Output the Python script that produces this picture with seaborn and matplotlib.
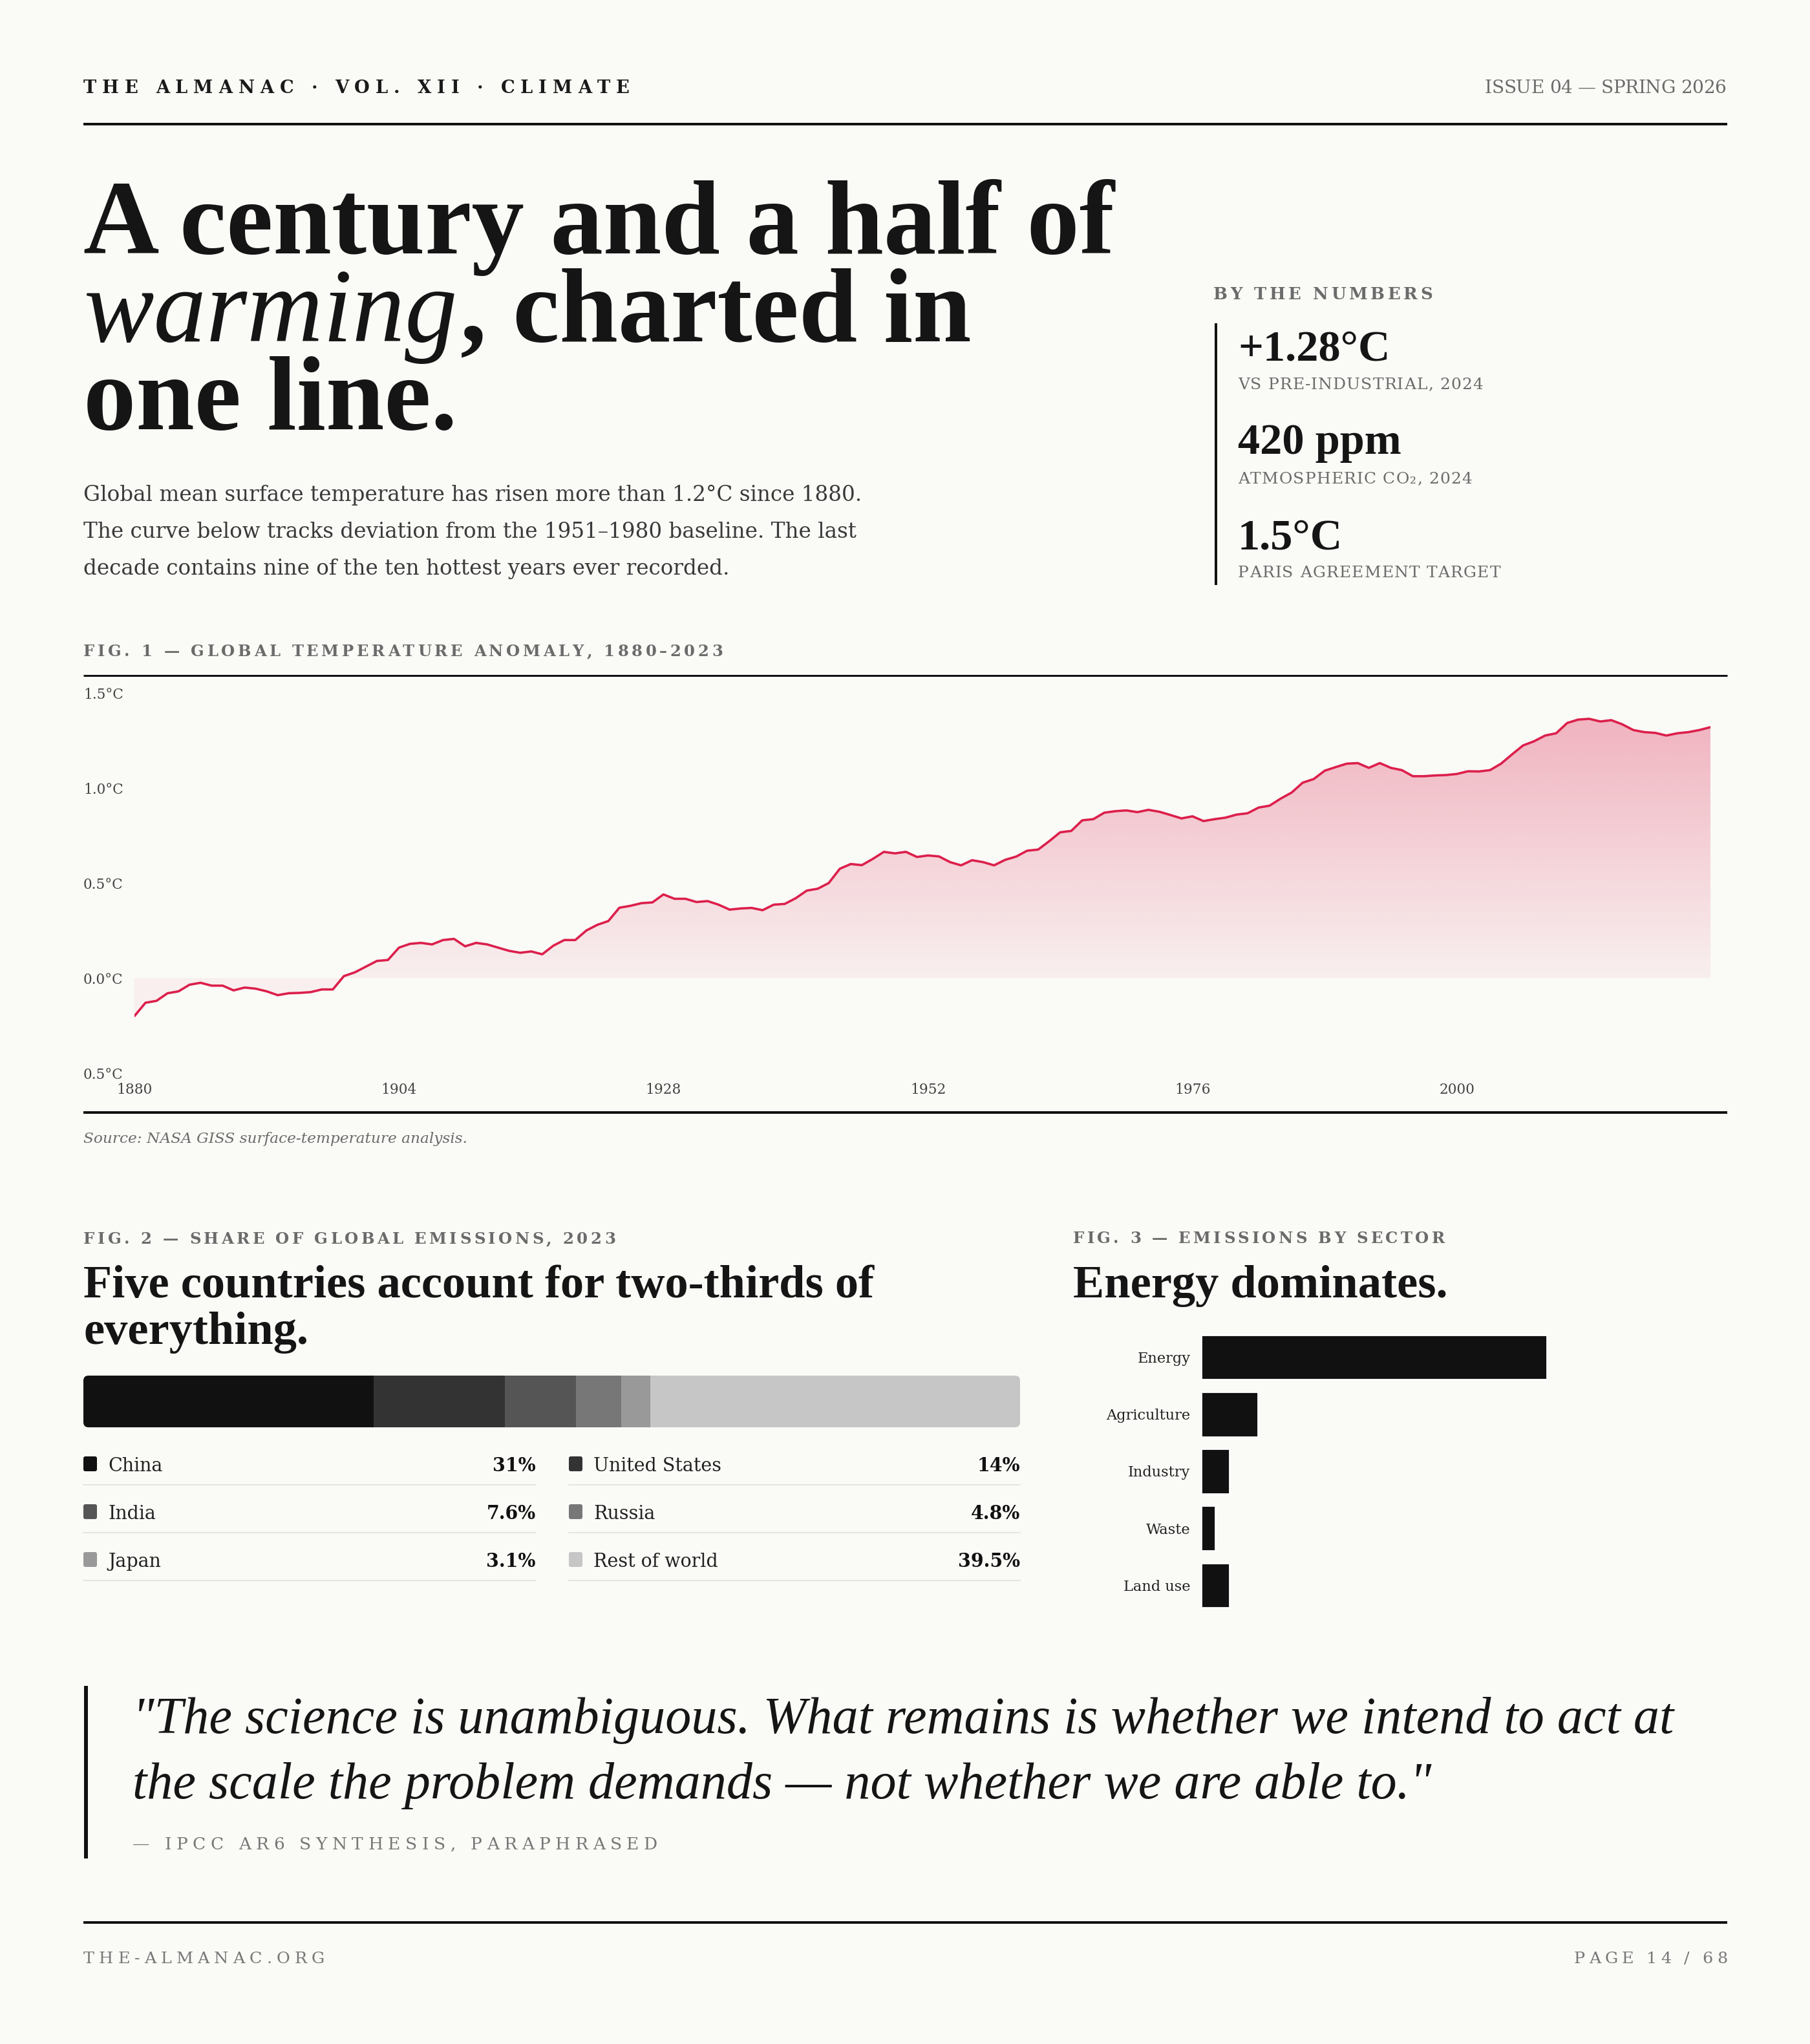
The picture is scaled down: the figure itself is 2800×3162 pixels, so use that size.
import matplotlib
matplotlib.use("Agg")
import matplotlib.pyplot as plt
import seaborn as sns
import numpy as np
import pandas as pd
from matplotlib.patches import FancyBboxPatch

# ---------------- data ----------------
years = list(range(1880, 2024))
anomaly = [
    -0.20, -0.13, -0.12, -0.08, -0.07, -0.035, -0.025, -0.04, -0.04, -0.065,
    -0.05, -0.056, -0.07, -0.09, -0.08, -0.078, -0.074, -0.06, -0.06, 0.01,
    0.03, 0.06, 0.09, 0.095, 0.16, 0.18, 0.185, 0.177, 0.20, 0.206,
    0.167, 0.185, 0.177, 0.16, 0.143, 0.133, 0.14, 0.125, 0.17, 0.20,
    0.20, 0.25, 0.28, 0.30, 0.37, 0.38, 0.394, 0.398, 0.44, 0.417,
    0.417, 0.40, 0.405, 0.386, 0.36, 0.366, 0.369, 0.357, 0.386, 0.39,
    0.42, 0.46, 0.47, 0.50, 0.575, 0.60, 0.594, 0.627, 0.664, 0.656,
    0.664, 0.637, 0.645, 0.64, 0.61, 0.593, 0.62, 0.61, 0.593, 0.622,
    0.639, 0.67, 0.676, 0.72, 0.767, 0.774, 0.83, 0.836, 0.87, 0.878,
    0.882, 0.873, 0.885, 0.875, 0.858, 0.84, 0.851, 0.826, 0.836, 0.844,
    0.86, 0.867, 0.897, 0.907, 0.944, 0.976, 1.028, 1.047, 1.091, 1.11,
    1.128, 1.131, 1.106, 1.131, 1.106, 1.094, 1.062, 1.062, 1.066, 1.068,
    1.074, 1.088, 1.087, 1.094, 1.128, 1.177, 1.224, 1.246, 1.276, 1.288,
    1.342, 1.36, 1.364, 1.35, 1.357, 1.335, 1.305, 1.294, 1.29, 1.276,
    1.288, 1.294, 1.305, 1.32,
]
y_ticks = [-0.5, 0.0, 0.5, 1.0, 1.5]
y_tick_labels = ["0.5°C", "0.0°C", "0.5°C", "1.0°C", "1.5°C"]
x_ticks = [1880, 1904, 1928, 1952, 1976, 2000]

countries = ["China", "United States", "India", "Russia", "Japan", "Rest of world"]
shares = [31, 14, 7.6, 4.8, 3.1, 39.5]
share_labels = ["31%", "14%", "7.6%", "4.8%", "3.1%", "39.5%"]
share_colors = ["#111111", "#333333", "#555555", "#777777", "#999999", "#c6c6c6"]

sectors = ["Energy", "Agriculture", "Industry", "Waste", "Land use"]
sector_values = [73.2, 12.0, 6.0, 3.0, 6.0]

stat_values = ["+1.28°C", "420 ppm", "1.5°C"]
stat_labels = ["VS PRE-INDUSTRIAL, 2024", "ATMOSPHERIC CO₂, 2024", "PARIS AGREEMENT TARGET"]

title_lines = ["A century and a half of", "warming", ", charted in", "one line."]
body_lines = [
    "Global mean surface temperature has risen more than 1.2°C since 1880.",
    "The curve below tracks deviation from the 1951–1980 baseline. The last",
    "decade contains nine of the ten hottest years ever recorded.",
]
quote_lines = [
    "\"The science is unambiguous. What remains is whether we intend to act at",
    "the scale the problem demands — not whether we are able to.\"",
]

# ---------------- style ----------------
BG = "#fafaf7"
INK = "#151515"
GREY = "#6b6b6b"
RED = "#dc1f4b"
SERIF = ["DejaVu Serif", "DejaVu Sans"]
DISPLAY = ["Liberation Serif", "DejaVu Serif"]

sns.set_theme(style="white")
plt.rcParams["font.family"] = SERIF
plt.rcParams["axes.facecolor"] = "none"

W, H = 2800, 3162
DPI = 200
fig = plt.figure(figsize=(W / DPI, H / DPI), dpi=DPI, facecolor=BG)
bg = fig.add_axes([0, 0, 1, 1])
bg.set_xlim(0, W)
bg.set_ylim(H, 0)
bg.axis("off")
R = fig.canvas.get_renderer()


def pt(px):
    return px * 72.0 / DPI


def measure(s, size, **kw):
    t = bg.text(W / 2, H / 2, s, fontsize=size, **kw)
    w = t.get_window_extent(renderer=R).width
    t.remove()
    return w


def put(x, y, s, size, color, ha="left", width=None, track=None, **kw):
    if width is not None and track is None:
        size = size * width / measure(s, size, **kw)
    if track is None:
        bg.text(x, y, s, fontsize=size, color=color, ha=ha, va="baseline", **kw)
        return size
    base = measure("xx", size, **kw)
    advs = [measure("x" + c + "x", size, **kw) - base for c in s]
    tr = (width - sum(advs)) / (len(s) - 1) if track == "fit" else track
    total = sum(advs) + tr * (len(s) - 1)
    cx = x - total if ha == "right" else x
    for c, a in zip(s, advs):
        if c != " ":
            bg.text(cx, y, c, fontsize=size, color=color, ha="left", va="baseline", **kw)
        cx += a + tr
    return size


def hrule(y, lw_px, x0=129, x1=2672, color="#111111"):
    bg.plot([x0, x1], [y, y], color=color, lw=pt(lw_px), solid_capstyle="butt")


def fig_axes(left, top, right, bottom):
    return fig.add_axes([left / W, 1 - bottom / H, (right - left) / W, (bottom - top) / H])


# ---------------- header ----------------
put(129, 144, "THE ALMANAC · VOL. XII · CLIMATE", pt(27.4), "#1a1a1a",
    width=845, track="fit", fontweight="bold", family=SERIF)
put(2670, 144, "ISSUE 04 — SPRING 2026", pt(28), GREY, ha="right",
    width=373, track="fit", family=SERIF)
hrule(192, 4)

# ---------------- title ----------------
ts = put(129, 392, title_lines[0], 58, INK, width=1595, family=DISPLAY, fontweight="bold")
bg.text(129, 528, title_lines[1], fontsize=ts, color=INK, family=DISPLAY,
        fontstyle="italic", va="baseline")
w_warm = measure(title_lines[1], ts, family=DISPLAY, fontstyle="italic")
bg.text(129 + w_warm + 4, 528, title_lines[2], fontsize=ts, color=INK, family=DISPLAY,
        fontweight="bold", va="baseline")
bg.text(129, 664, title_lines[3], fontsize=ts, color=INK, family=DISPLAY,
        fontweight="bold", va="baseline")

# body
bs = put(129, 775, body_lines[0], 11, "#3a3a3a", width=1206, family=SERIF)
for i, line in enumerate(body_lines[1:]):
    bg.text(129, 832 + 56.5 * i, line, fontsize=bs, color="#3a3a3a", va="baseline", family=SERIF)

# ---------------- by the numbers ----------------
put(1877, 463, "BY THE NUMBERS", pt(26), GREY, width=339, track="fit",
    fontweight="bold", family=SERIF)
bg.plot([1881, 1881], [500, 905], color="#111111", lw=pt(4), solid_capstyle="butt")
ss = put(1915, 557, stat_values[0], 23, INK, width=235, family=DISPLAY, fontweight="bold")
stat_base = [557, 702, 849]
label_base = [602, 748, 893]
label_w = [379, 362, 406]
for i in range(3):
    if i > 0:
        bg.text(1915, stat_base[i], stat_values[i], fontsize=ss, color=INK, family=DISPLAY,
                fontweight="bold", va="baseline")
    put(1915, label_base[i], stat_labels[i], pt(25), GREY, width=label_w[i], track="fit",
        family=SERIF)

# ---------------- fig 1 ----------------
put(129, 1015, "FIG. 1 — GLOBAL TEMPERATURE ANOMALY, 1880–2023", pt(24.3), GREY,
    width=989, track="fit", fontweight="bold", family=SERIF)
hrule(1045, 3)

ax1 = fig_axes(208, 1072, 2646, 1660)
temp = pd.DataFrame({"year": years, "anomaly": anomaly})
poly = ax1.fill_between(temp["year"], temp["anomaly"], 0, facecolor="none", edgecolor="none")
grad_v = np.linspace(-0.5, 1.5, 400)
alpha = 0.05 + 0.27 * np.clip(grad_v / 1.36, 0, None)
rgba = np.zeros((400, 1, 4))
rgba[..., 0], rgba[..., 1], rgba[..., 2] = matplotlib.colors.to_rgb(RED)
rgba[:, 0, 3] = np.clip(alpha, 0, 1)
im = ax1.imshow(rgba, extent=[1880, 2023, -0.5, 1.5], origin="lower", aspect="auto",
                interpolation="bilinear", zorder=1)
im.set_clip_path(poly.get_paths()[0], transform=ax1.transData)
sns.lineplot(data=temp, x="year", y="anomaly", ax=ax1, color=RED, linewidth=pt(3.6),
             zorder=3, solid_joinstyle="round")
ax1.set_xlim(1880, 2023)
ax1.set_ylim(-0.5, 1.5)
for s in ax1.spines.values():
    s.set_visible(False)
ax1.set_xlabel("")
ax1.set_ylabel("")
ax1.set_yticks(y_ticks, y_tick_labels)
ax1.set_xticks(x_ticks, [str(v) for v in x_ticks])
ax1.tick_params(axis="y", length=0, pad=pt(79), labelsize=7.8, labelcolor="#444444")
ax1.tick_params(axis="x", length=0, pad=pt(15), labelsize=7.8, labelcolor="#444444")
for lab in ax1.get_yticklabels():
    lab.set_horizontalalignment("left")
ax1.grid(False)

hrule(1721, 4)
put(129, 1768, "Source: NASA GISS surface-temperature analysis.", 8.5, GREY, width=594,
    family=SERIF, fontstyle="italic")

# ---------------- fig 2 ----------------
put(129, 1924, "FIG. 2 — SHARE OF GLOBAL EMISSIONS, 2023", pt(24.4), GREY,
    width=823, track="fit", fontweight="bold", family=SERIF)
hs = put(129, 2007, "Five countries account for two-thirds of", 23, INK, width=1222,
         family=DISPLAY, fontweight="bold")
bg.text(129, 2079, "everything.", fontsize=hs, color=INK, family=DISPLAY,
        fontweight="bold", va="baseline")

ax2 = fig_axes(129, 2128, 1578, 2208)
ax2.set_xlim(0, 100)
ax2.set_ylim(0, 1)
ax2.axis("off")
clip = FancyBboxPatch((0, 0), 100, 1, boxstyle="round,pad=0,rounding_size=0.55",
                      mutation_aspect=0.18, transform=ax2.transData,
                      facecolor="none", edgecolor="none")
ax2.add_patch(clip)
left = 0.0
for c, v, col in zip(countries, shares, share_colors):
    b = ax2.barh(0.5, v, left=left, height=1.0, color=col, edgecolor="none")
    for p in b:
        p.set_clip_path(clip)
    left += v

# legend rows
row_base = [2276, 2350, 2424]
row_rule = [2297, 2371, 2445]
cols = [(129, 167, 829), (880, 918, 1578)]
ls = 10.4 * 198 / measure("United States", 10.4, family=SERIF)
for i, (c, lab, col) in enumerate(zip(countries, share_labels, share_colors)):
    r, k = divmod(i, 2)
    sx, tx, rx = cols[k]
    bg.add_patch(FancyBboxPatch((sx, row_base[r] - 23), 21, 23,
                                boxstyle="round,pad=0,rounding_size=3",
                                facecolor=col, edgecolor="none"))
    bg.text(tx, row_base[r], c, fontsize=ls, color="#222222", family=SERIF, va="baseline")
    bg.text(rx, row_base[r], lab, fontsize=ls, color="#111111", family=SERIF,
            fontweight="bold", va="baseline", ha="right")
    bg.plot([sx, rx], [row_rule[r], row_rule[r]], color="#e4e4e0", lw=pt(2))

# ---------------- fig 3 ----------------
put(1660, 1923, "FIG. 3 — EMISSIONS BY SECTOR", pt(24.4), GREY,
    width=575, track="fit", fontweight="bold", family=SERIF)
bg.text(1660, 2007, "Energy dominates.", fontsize=hs, color=INK, family=DISPLAY,
        fontweight="bold", va="baseline")

ax3 = fig_axes(1858, 2055.4, 2588.5, 2496.5)
sec = pd.DataFrame({"sector": sectors, "value": sector_values})
sns.barplot(data=sec, x="value", y="sector", orient="h", color="#111111", saturation=1,
            width=0.79, ax=ax3)
ax3.set_xlim(0, 100)
ax3.set_ylim(4.5, -0.5)
for s in ax3.spines.values():
    s.set_visible(False)
ax3.set_xticks([])
ax3.set_xlabel("")
ax3.set_ylabel("")
lab_size = 8.2 * 130 / measure("Agriculture", 8.2, family=SERIF)
ax3.tick_params(axis="y", length=0, pad=pt(16.5), labelsize=lab_size, labelcolor="#222222")
ax3.grid(False)

# ---------------- quote ----------------
bg.plot([133, 133], [2608, 2875], color="#111111", lw=pt(6), solid_capstyle="butt")
qs = put(205, 2681, quote_lines[0], 28, INK, width=2383, family=DISPLAY, fontstyle="italic")
bg.text(205, 2782, quote_lines[1], fontsize=qs, color=INK, family=DISPLAY,
        fontstyle="italic", va="baseline")
put(205, 2861, "— IPCC AR6 SYNTHESIS, PARAPHRASED", pt(26.5), "#777777",
    width=812, track="fit", family=SERIF)

# ---------------- footer ----------------
hrule(2974, 4)
put(129, 3037, "THE-ALMANAC.ORG", pt(25.5), "#777777", width=373, track="fit", family=SERIF)
put(2672, 3037, "PAGE 14 / 68", pt(25.5), "#777777", ha="right", width=237, track="fit",
    family=SERIF)

fig.savefig("out.png", dpi=DPI, facecolor=BG)
